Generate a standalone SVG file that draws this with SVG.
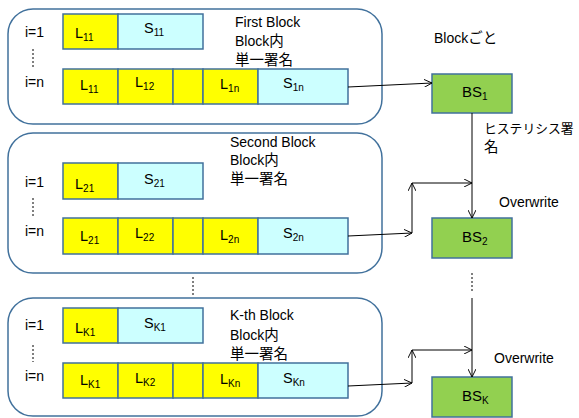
<svg xmlns="http://www.w3.org/2000/svg" width="579" height="418" viewBox="0 0 579 418">
  <style>
    .blk { fill: #ffffff; stroke: #41719c; stroke-width: 1.5; }
    .l { fill: #ffff00; stroke: #41719c; stroke-width: 1.5; }
    .s { fill: #ccffff; stroke: #41719c; stroke-width: 1.5; }
    .bs { fill: #92d050; stroke: #41719c; stroke-width: 1.5; }
    text { font-family: "Liberation Sans", "Noto Sans CJK JP", sans-serif; font-size: 14px; fill: #000; }
    .cell { font-size: 14.5px; }
    .sub { font-size: 10px; }
    .jp { font-family: "Noto Sans CJK JP", "Liberation Sans", sans-serif; font-size: 14.5px; }
    .jps { font-family: "Noto Sans CJK JP", "Liberation Sans", sans-serif; font-size: 12.8px; }
    .conn { fill: none; stroke: #000; stroke-width: 1; }
    .dot { fill: none; stroke: #000; stroke-width: 1; stroke-dasharray: 2 2; }
  </style>
  <defs>
    <marker id="arr" viewBox="0 0 10 10" refX="10" refY="5" markerWidth="8" markerHeight="8" markerUnits="userSpaceOnUse" orient="auto">
      <path d="M0,0 L10,5 L0,10" fill="none" stroke="#000" stroke-width="1.2"/>
    </marker>
  </defs>

  <!-- First block -->
  <g id="block1">
    <rect class="blk" x="8" y="9" width="374" height="115" rx="25"/>
    <text x="25" y="37">i=1</text>
    <text x="25" y="87">i=n</text>
    <line class="dot" x1="33" y1="49" x2="33" y2="69"/>
    <rect class="l" x="63" y="14" width="55" height="35"/>
    <rect class="s" x="118" y="14" width="85" height="35"/>
    <text class="cell" x="75" y="38">L<tspan class="sub" dy="3">11</tspan></text>
    <text class="cell" x="144" y="33">S<tspan class="sub" dy="3">11</tspan></text>
    <rect class="l" x="63" y="69" width="55" height="35"/>
    <rect class="l" x="118" y="69" width="55" height="35"/>
    <rect class="l" x="173" y="69" width="30" height="35"/>
    <rect class="l" x="203" y="69" width="55" height="35"/>
    <rect class="s" x="258" y="69" width="90" height="35"/>
    <text class="cell" x="80" y="90">L<tspan class="sub" dy="3">11</tspan></text>
    <text class="cell" x="135" y="87">L<tspan class="sub" dy="3">12</tspan></text>
    <text class="cell" x="220" y="89">L<tspan class="sub" dy="3">1n</tspan></text>
    <text class="cell" x="283" y="88">S<tspan class="sub" dy="3">1n</tspan></text>
    <text x="235" y="27">First Block</text>
    <text x="235" y="46">Block<tspan class="jp">内</tspan></text>
    <text class="jp" x="235" y="65">単一署名</text>
  </g>

  <!-- Second block -->
  <g id="block2">
    <rect class="blk" x="8" y="133" width="374" height="140" rx="25"/>
    <text x="25" y="187">i=1</text>
    <text x="25" y="236">i=n</text>
    <line class="dot" x1="33" y1="198" x2="33" y2="218"/>
    <rect class="l" x="63" y="163" width="55" height="36"/>
    <rect class="s" x="118" y="163" width="85" height="36"/>
    <text class="cell" x="75" y="189">L<tspan class="sub" dy="3">21</tspan></text>
    <text class="cell" x="144" y="184">S<tspan class="sub" dy="3">21</tspan></text>
    <rect class="l" x="63" y="218" width="55" height="36"/>
    <rect class="l" x="118" y="218" width="55" height="36"/>
    <rect class="l" x="173" y="218" width="30" height="36"/>
    <rect class="l" x="203" y="218" width="55" height="36"/>
    <rect class="s" x="258" y="218" width="90" height="36"/>
    <text class="cell" x="80" y="241">L<tspan class="sub" dy="3">21</tspan></text>
    <text class="cell" x="135" y="238">L<tspan class="sub" dy="3">22</tspan></text>
    <text class="cell" x="220" y="240">L<tspan class="sub" dy="3">2n</tspan></text>
    <text class="cell" x="283" y="238">S<tspan class="sub" dy="3">2n</tspan></text>
    <text x="230" y="147">Second Block</text>
    <text x="230" y="165">Block<tspan class="jp">内</tspan></text>
    <text class="jp" x="230" y="184">単一署名</text>
  </g>

  <!-- K-th block -->
  <g id="blockK">
    <rect class="blk" x="8" y="298" width="374" height="118" rx="25"/>
    <text x="25" y="330">i=1</text>
    <text x="25" y="381">i=n</text>
    <line class="dot" x1="33" y1="345" x2="33" y2="362"/>
    <rect class="l" x="63" y="308" width="55" height="35"/>
    <rect class="s" x="118" y="308" width="85" height="35"/>
    <text class="cell" x="75" y="333">L<tspan class="sub" dy="3">K1</tspan></text>
    <text class="cell" x="144" y="328">S<tspan class="sub" dy="3">K1</tspan></text>
    <rect class="l" x="63" y="363" width="55" height="35"/>
    <rect class="l" x="118" y="363" width="55" height="35"/>
    <rect class="l" x="173" y="363" width="30" height="35"/>
    <rect class="l" x="203" y="363" width="55" height="35"/>
    <rect class="s" x="258" y="363" width="90" height="35"/>
    <text class="cell" x="80" y="385">L<tspan class="sub" dy="3">K1</tspan></text>
    <text class="cell" x="135" y="383">L<tspan class="sub" dy="3">K2</tspan></text>
    <text class="cell" x="220" y="384">L<tspan class="sub" dy="3">Kn</tspan></text>
    <text class="cell" x="283" y="383">S<tspan class="sub" dy="3">Kn</tspan></text>
    <text x="230" y="320">K-th Block</text>
    <text x="230" y="340">Block<tspan class="jp">内</tspan></text>
    <text class="jp" x="230" y="359">単一署名</text>
  </g>

  <!-- Block signatures -->
  <g id="bs1">
    <rect class="bs" x="432" y="74" width="80" height="39"/>
    <text x="462" y="97" style="font-size:15px">BS<tspan class="sub" dy="3">1</tspan></text>
  </g>
  <g id="bs2">
    <rect class="bs" x="432" y="218" width="80" height="40"/>
    <text x="462" y="242" style="font-size:15px">BS<tspan class="sub" dy="3">2</tspan></text>
  </g>
  <g id="bsK">
    <rect class="bs" x="432" y="377" width="80" height="40"/>
    <text x="462" y="401" style="font-size:15px">BS<tspan class="sub" dy="3">K</tspan></text>
  </g>

  <!-- Labels -->
  <g id="labels">
    <text x="434" y="43">Block<tspan class="jp">ごと</tspan></text>
    <text class="jps" x="484" y="133">ヒステリシス署</text>
    <text class="jp" x="484" y="152">名</text>
    <text x="499" y="207">Overwrite</text>
    <text x="494" y="363">Overwrite</text>
  </g>

  <!-- Connectors -->
  <g id="connectors">
    <line class="conn" x1="348" y1="87" x2="432" y2="83" marker-end="url(#arr)"/>
    <line class="conn" x1="472" y1="113" x2="472" y2="218" marker-end="url(#arr)"/>
    <line class="conn" x1="348" y1="236" x2="412" y2="233" marker-end="url(#arr)"/>
    <line class="conn" x1="412" y1="233" x2="412" y2="183" marker-end="url(#arr)"/>
    <line class="conn" x1="412" y1="183" x2="472" y2="183" marker-end="url(#arr)"/>
    <line class="dot" x1="472" y1="273" x2="472" y2="293"/>
    <line class="conn" x1="472" y1="298" x2="472" y2="377" marker-end="url(#arr)"/>
    <line class="conn" x1="348" y1="386" x2="412" y2="383" marker-end="url(#arr)"/>
    <line class="conn" x1="412" y1="383" x2="412" y2="350" marker-end="url(#arr)"/>
    <line class="conn" x1="412" y1="350" x2="472" y2="350" marker-end="url(#arr)"/>
    <line class="dot" x1="193" y1="277" x2="193" y2="297"/>
  </g>
</svg>
